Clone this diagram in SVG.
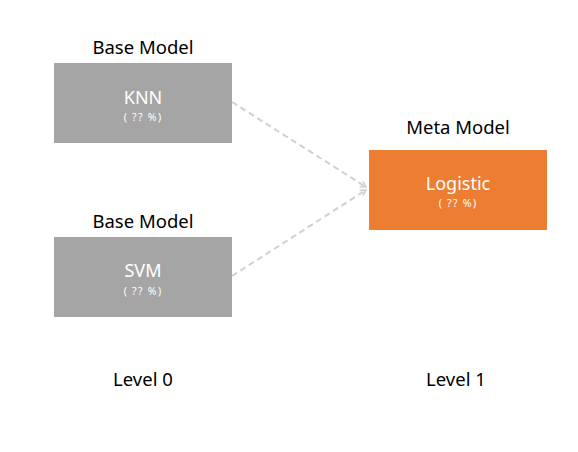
<svg xmlns="http://www.w3.org/2000/svg" width="578" height="452" viewBox="0 0 578 452">
<defs>
<marker id="ah" viewBox="0 0 10 10" refX="8" refY="5" markerWidth="4" markerHeight="4" orient="auto" markerUnits="strokeWidth">
<path d="M1,1 L8,5 L1,9" fill="none" stroke="#d0d0d0" stroke-width="2"/>
</marker>
</defs>
<style>
text{font-family:"Noto Sans","Noto Sans CJK KR",sans-serif;text-anchor:middle}
.lbl{font-size:18.5px;fill:#000}
.t{font-size:18px;fill:#fff}
.s{font-size:10.5px;fill:#fff;letter-spacing:1.3px}
.base{fill:#a5a5a5}
.meta{fill:#ed7d31}
.c{fill:none;stroke:#d0d0d0;stroke-width:2;stroke-dasharray:6,4;marker-end:url(#ah)}
</style>
<rect width="578" height="452" fill="#fff"/>
<g id="connectors">
<line class="c" x1="232" y1="102" x2="366" y2="187"/>
<line class="c" x1="232" y1="276" x2="366" y2="190"/>
</g>
<g id="knn">
<text class="lbl" x="143" y="54">Base Model</text>
<rect class="base" x="54" y="63" width="178" height="80"/>
<text class="t" x="143" y="104">KNN</text>
<text class="s" x="143" y="121">( ?? %)</text>
</g>
<g id="svm">
<text class="lbl" x="143" y="228">Base Model</text>
<rect class="base" x="54" y="237" width="178" height="80"/>
<text class="t" x="143" y="277">SVM</text>
<text class="s" x="143" y="295">( ?? %)</text>
</g>
<g id="logistic">
<text class="lbl" x="458" y="134">Meta Model</text>
<rect class="meta" x="369" y="150" width="178" height="80"/>
<text class="t" x="458" y="190">Logistic</text>
<text class="s" x="458" y="207">( ?? %)</text>
</g>
<g id="levels">
<text class="lbl" x="143" y="386">Level 0</text>
<text class="lbl" x="456" y="386">Level 1</text>
</g>
</svg>
